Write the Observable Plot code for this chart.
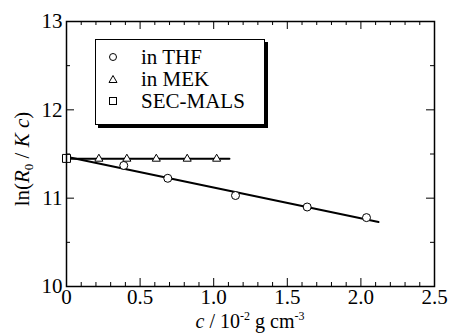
<!DOCTYPE html>
<html><head><meta charset="utf-8">
<script src="https://cdn.jsdelivr.net/npm/d3@7"></script>
<script src="https://cdn.jsdelivr.net/npm/@observablehq/plot@0.6"></script>
<style>
body{margin:0;background:#fff;}
#wrap{position:relative;width:452px;height:336px;overflow:hidden;font-family:"Liberation Serif","Times New Roman","DejaVu Serif",serif;color:#000;}
#wrap svg text{font-family:"Liberation Serif","Times New Roman","DejaVu Serif",serif;}
#legend{position:absolute;left:95px;top:39px;width:170px;height:86px;box-sizing:border-box;border:1px solid #000;background:#fff;box-shadow:3px 3px 0 #000;font-size:21px;}
.row{position:absolute;left:0;height:22px;line-height:22px;}
.row svg{position:absolute;left:12px;top:6px;}
.row span{position:absolute;left:45px;white-space:nowrap;}
#ylab{position:absolute;left:22px;top:159px;transform:translate(-50%,-50%) rotate(-90deg);font-size:21px;line-height:24px;white-space:nowrap;}
#xlab{position:absolute;left:250px;top:310px;transform:translateX(-50%);font-size:20px;line-height:22px;height:24px;white-space:nowrap;}
sup{font-size:12px;vertical-align:8px;line-height:0}
sub{font-size:13px;vertical-align:-4px;line-height:0}
</style>
</head><body>
<div id="wrap"></div>
<script>
// data
const thfC = [0.389, 0.688, 1.148, 1.635, 2.038];
const thfLn = [11.37, 11.225, 11.03, 10.90, 10.78];
const mekC = [0.22, 0.41, 0.61, 0.82, 1.02];
const mekLn = [11.445, 11.445, 11.445, 11.445, 11.445];
const malsC = [0];
const malsLn = [11.45];
const thfFitC = [0, 2.12];
const thfFitLn = [11.47, 10.73];
const mekFitC = [0, 1.107];
const mekFitLn = [11.445, 11.445];
const xMajor = [0, 0.5, 1.0, 1.5, 2.0, 2.5];
const xMinor = [0.1,0.2,0.3,0.4,0.6,0.7,0.8,0.9,1.1,1.2,1.3,1.4,1.6,1.7,1.8,1.9,2.1,2.2,2.3,2.4];
const yMajor = [10, 11, 12, 13];
const yMinor = [10.5, 11.5, 12.5];
const legendLabels = ["in THF", "in MEK", "SEC-MALS"];

const W = 452, H = 336, mL = 66, mR = 18, mT = 21, mB = 50;
const iw = W - mL - mR, ih = H - mT - mB;
const pts = (xs, ys) => xs.map((c, i) => ({c, v: ys[i]}));
const thf = pts(thfC, thfLn), mek = pts(mekC, mekLn), mals = pts(malsC, malsLn);
const thfFit = pts(thfFitC, thfFitLn), mekFit = pts(mekFitC, mekFitLn);
const maj = 8, mnr = 4;
const serif = '"Liberation Serif", "Times New Roman", "DejaVu Serif", serif';

const chart = Plot.plot({
  width: W, height: H,
  marginLeft: mL, marginRight: mR, marginTop: mT, marginBottom: mB,
  style: {fontFamily: serif, fontSize: "21px", color: "#000", background: "#fff"},
  x: {domain: [0, 2.5]},
  y: {domain: [10, 13]},
  marks: [
    Plot.tickX(xMajor, {x: d => d, insetTop: ih - maj, strokeWidth: 1}),
    Plot.tickX(xMajor, {x: d => d, insetBottom: ih - maj, strokeWidth: 1}),
    Plot.tickX(xMinor, {x: d => d, insetTop: ih - mnr, strokeWidth: 1}),
    Plot.tickX(xMinor, {x: d => d, insetBottom: ih - mnr, strokeWidth: 1}),
    Plot.tickY(yMajor, {y: d => d, insetRight: iw - maj, strokeWidth: 1}),
    Plot.tickY(yMajor, {y: d => d, insetLeft: iw - maj, strokeWidth: 1}),
    Plot.tickY(yMinor, {y: d => d, insetRight: iw - mnr, strokeWidth: 1}),
    Plot.tickY(yMinor, {y: d => d, insetLeft: iw - mnr, strokeWidth: 1}),
    Plot.axisX({ticks: xMajor, tickSize: 0, tickPadding: 3, label: null, fontFamily: serif,
      tickFormat: d => d === 0 ? "0" : d.toFixed(1)}),
    Plot.axisY({ticks: yMajor, tickSize: 0, tickPadding: 4, label: null, fontFamily: serif, tickFormat: d => String(d)}),
    Plot.line(thfFit, {x: "c", y: "v", stroke: "#000", strokeWidth: 2}),
    Plot.line(mekFit, {x: "c", y: "v", stroke: "#000", strokeWidth: 2}),
    Plot.dot(thf, {x: "c", y: "v", r: 4, symbol: "circle", fill: "#fff", stroke: "#000", strokeWidth: 1}),
    Plot.dot(mek, {x: "c", y: "v", r: 3, symbol: "triangle", fill: "#fff", stroke: "#000", strokeWidth: 1}),
    Plot.dot(mals, {x: "c", y: "v", r: 4.5, symbol: "square", fill: "#fff", stroke: "#000", strokeWidth: 1}),
    Plot.frame({stroke: "#000", strokeWidth: 1.5})
  ]
});

const wrap = document.getElementById("wrap");
wrap.appendChild(chart);

const shapes = [
  '<circle cx="5" cy="5" r="3.5" fill="#fff" stroke="#000"/>',
  '<path d="M5 1.5 L9 8.5 L1 8.5 Z" fill="#fff" stroke="#000"/>',
  '<rect x="1.5" y="1.5" width="7" height="7" fill="#fff" stroke="#000"/>'
];
const leg = document.createElement("div");
leg.id = "legend";
legendLabels.forEach((t, i) => {
  const r = document.createElement("div");
  r.className = "row";
  r.style.top = (6 + i * 22) + "px";
  r.innerHTML = `<svg width="10" height="10">${shapes[i]}</svg><span>${t}</span>`;
  leg.appendChild(r);
});
wrap.appendChild(leg);

const yl = document.createElement("div");
yl.id = "ylab";
yl.innerHTML = 'ln(<i>R</i><sub>0</sub> / <i>K c</i>)';
wrap.appendChild(yl);
const xl = document.createElement("div");
xl.id = "xlab";
xl.innerHTML = '<i>c</i> / 10<sup>-2</sup> g cm<sup>-3</sup>';
wrap.appendChild(xl);
</script>
</body></html>
